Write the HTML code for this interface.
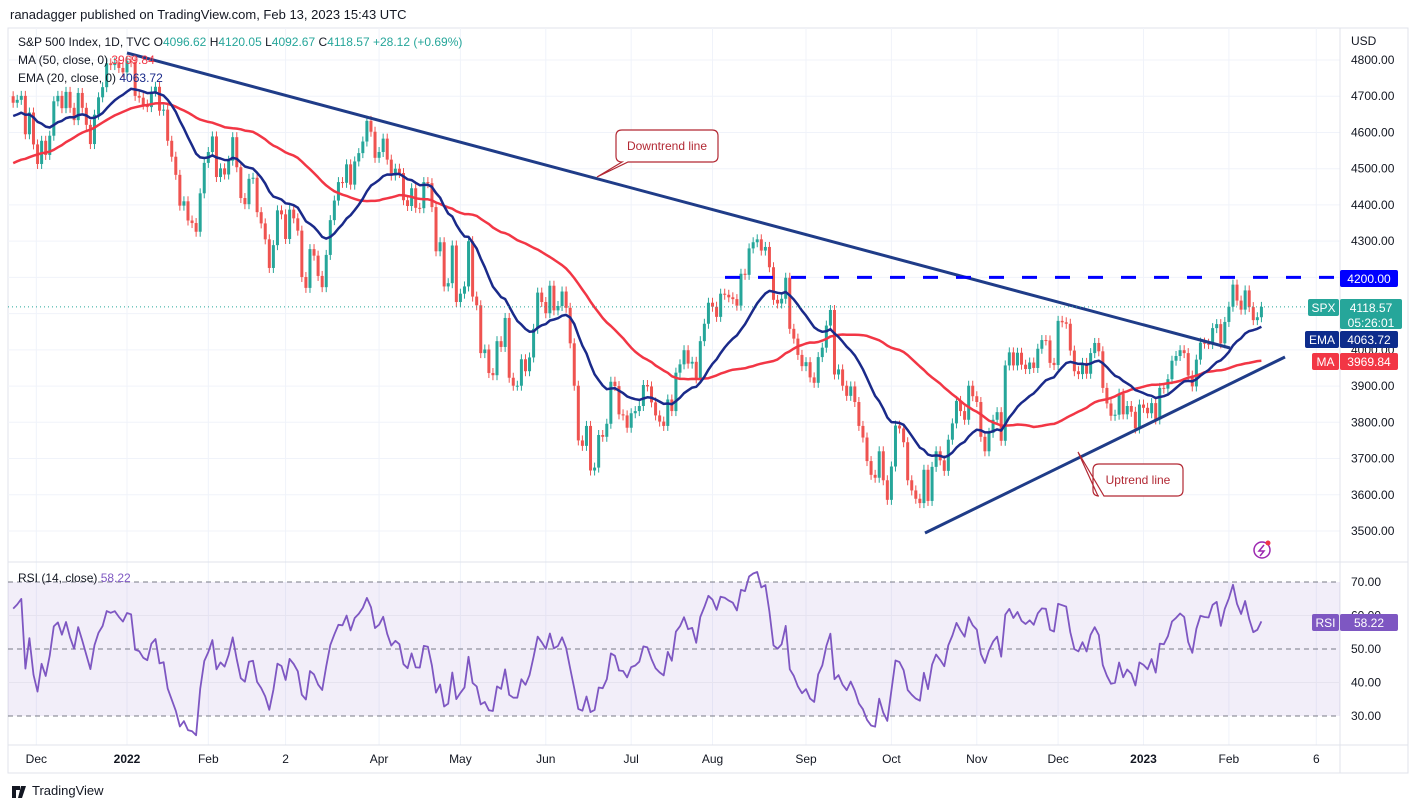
<!DOCTYPE html>
<html><head><meta charset="utf-8">
<style>
body{margin:0;background:#fff;font-family:"Liberation Sans",sans-serif;}
#wrap{position:relative;width:1418px;height:808px;overflow:hidden;}
svg text{font-family:"Liberation Sans",sans-serif;}
</style></head>
<body>
<div id="wrap">
<svg id="chart" width="1418" height="808" xmlns="http://www.w3.org/2000/svg"></svg>
</div>
<script>
// warm-up closes (Sep 7 - Nov 19 2021), not drawn
const warmCloses=[4520,4514,4493,4459,4469,4443,4480,4474,4433,4358,4354,4395,4449,4455,4443,4353,4359,4307,
4357,4300,4345,4363,4399,4391,4361,4350,4364,4438,4471,4486,4519,4536,4549,4544,4566,4575,4552,4597,4605,
4614,4631,4660,4680,4697,4702,4686,4647,4649,4683,4682,4700,4688,4704,4698];
// daily closes Nov 22 2021 - Feb 13 2023
const closes=[4682,4690,4701,4595,4655,4567,
4513,4577,4538,4591,4686,4701,4667,4712,4668,4634,4709,4668,4621,4568,4649,4697,4725,4791,4786,4793,4778,4766,
4797,4794,4701,4696,4677,4670,4713,4726,4660,4663,4577,4533,4483,4398,4410,4357,4350,4326,4432,4516,
4546,4589,4477,4501,4484,4522,4587,4504,4419,4402,4472,4475,4380,4349,4305,4226,4289,4385,4374,
4306,4387,4363,4329,4201,4171,4278,4260,4204,4173,4262,4358,4412,4463,4461,4512,4456,4520,4543,4575,4632,4602,4530,
4546,4583,4525,4481,4500,4488,4413,4397,4446,4392,4391,4463,4460,4394,4272,4297,4175,4184,4288,4132,
4155,4175,4300,4147,4123,3991,4001,3936,3930,4024,4008,4088,3923,3901,3901,3974,3941,3979,4058,4158,4132,
4101,4177,4109,4121,4161,4116,4018,3901,3750,3735,3790,3667,3675,3765,3760,3796,3912,3900,3822,3819,3785,
3825,3831,3845,3903,3899,3855,3819,3802,3790,3863,3831,3937,3960,3999,3962,3967,3921,4024,4072,4130,
4119,4091,4155,4152,4145,4140,4122,4210,4207,4280,4297,4305,4274,4284,4228,4138,4128,4141,4199,4058,4031,3986,3955,
3966,3924,3909,3980,4006,4067,4110,3932,3946,3901,3873,3899,3856,3790,3758,3693,3655,3647,3720,3640,3586,
3678,3791,3783,3745,3640,3612,3589,3577,3669,3583,3677,3720,3695,3666,3752,3797,3859,3831,3807,3901,3872,
3856,3760,3720,3771,3807,3828,3749,3957,3993,3957,3992,3959,3947,3965,3950,4003,4027,4026,3964,3958,4080,
4076,4072,3998,3941,3933,3964,3934,3991,4019,3996,3895,3852,3818,3821,3879,3822,3845,3829,3783,3849,3840,
3825,3853,3808,3895,3893,3919,3970,3983,3999,3991,3929,3899,3973,4020,4017,4016,4060,4071,4018,4077,
4119,4180,4136,4111,4164,4118,4082,4090,4118.57];
const priceTicks=[4800,4700,4600,4500,4400,4300,4200,4100,4000,3900,3800,3700,3600,3500];
const rsiTicks=[70,60,50,40,30];
const monthLabels=["Dec","2022","Feb","2","Apr","May","Jun","Jul","Aug","Sep","Oct","Nov","Dec","2023","Feb","6"];
const monthIdx=[5.7,28,48,67,90,110,131,152,172,195,216,237,257,278,299,320.5];

const S=document.getElementById('chart');
const NS='http://www.w3.org/2000/svg';
function mk(tag,attrs,parent){const e=document.createElementNS(NS,tag);for(const k in attrs)e.setAttribute(k,attrs[k]);(parent||S).appendChild(e);return e;}
const xi=i=>127+(i-28)*4.066;
const yp=p=>531-(p-3500)*0.36231;
const yr=r=>716-(r-30)*3.35;
const L=8,R=1340,RB=1408;

// indicators
const all=warmCloses.concat(closes);const W=warmCloses.length;
const ema=[];let e=all[0];const k=2/21;
all.forEach((c,i)=>{e=i===0?c:c*k+e*(1-k);ema.push(e);});
const ma=all.map((c,i)=>{const s=all.slice(Math.max(0,i-49),i+1);return s.reduce((a,b)=>a+b,0)/s.length;});
const rsi=[];let ag=0,al=0;
all.forEach((c,i)=>{if(i===0){rsi.push(50);return;}const d=c-all[i-1];const g=Math.max(d,0),l=Math.max(-d,0);
if(i<=14){ag+=g/14;al+=l/14;}else{ag=(ag*13+g)/14;al=(al*13+l)/14;}rsi.push(al===0?100:100-100/(1+ag/al));});

// frame
const bg=mk('rect',{x:L,y:28,width:RB-L,height:745,fill:'#fff',stroke:'#e0e3eb'});

// grid
monthIdx.forEach(m=>{mk('line',{x1:xi(m),x2:xi(m),y1:28,y2:745,stroke:'#f0f3fa'});});
priceTicks.forEach(p=>{mk('line',{x1:L,x2:R,y1:yp(p),y2:yp(p),stroke:'#f0f3fa'});});
// panes borders
mk('line',{x1:L,x2:RB,y1:562,y2:562,stroke:'#e0e3eb'});
mk('line',{x1:L,x2:RB,y1:745,y2:745,stroke:'#e0e3eb'});
mk('line',{x1:R,x2:R,y1:28,y2:773,stroke:'#e0e3eb'});

// price axis labels
priceTicks.forEach(p=>{const t=mk('text',{x:1351,y:yp(p)+4,'font-size':12,fill:'#131722'});t.textContent=p.toFixed(2);
});
const usd=mk('text',{x:1351,y:45,'font-size':12,fill:'#131722'});usd.textContent='USD';


// time axis
monthLabels.forEach((m,i)=>{const t=mk('text',{x:xi(monthIdx[i]),y:763,'font-size':12,fill:'#131722','text-anchor':'middle','font-weight':/^\d{4}$/.test(m)?'bold':'normal'});t.textContent=m;
});

// candles
const cg=mk('g',{});
closes.forEach((c,i)=>{const o=i===0?4700:closes[i-1];const up=c>=o;const col=up?'#26a69a':'#ef5350';const x=xi(i);
const y1=yp(Math.max(o,c)),y2=yp(Math.min(o,c));
const wk=mk('line',{x1:x,x2:x,y1:y1-5,y2:y2+5,stroke:col,'stroke-width':1},cg);

const b=mk('rect',{x:x-1.5,y:y1,width:3,height:Math.max(1,y2-y1),fill:col},cg);
});

function line(arr,yf,col,w,name){let d='';for(let i=0;i<closes.length;i++){d+=(i?'L':'M')+xi(i).toFixed(1)+','+yf(arr[W+i]).toFixed(1);}
const p=mk('path',{d:d,fill:'none',stroke:col,'stroke-width':w,'stroke-linejoin':'round'});return p;}
line(ma,yp,'#f23645',2.5,'ma50-line');
line(ema,yp,'#1a2a8a',2.5,'ema20-line');

// trend lines
const dl=mk('line',{x1:127,y1:53,x2:1230,y2:348,stroke:'#1f3c88','stroke-width':3});
const ul=mk('line',{x1:925,y1:533,x2:1285,y2:357,stroke:'#1f3c88','stroke-width':3});
const rl=mk('line',{x1:725,y1:yp(4200),x2:1335,y2:yp(4200),stroke:'#0000ff','stroke-width':3,'stroke-dasharray':'15,18'});
mk('line',{x1:L,x2:R,y1:yp(4118.57),y2:yp(4118.57),stroke:'#26a69a','stroke-dasharray':'1,3'});

// callouts
function callout(x,y,w,h,px,py,bx1,bx2,text,name){
const g=mk('g',{});
mk('path',{d:`M${x+6},${y} H${x+w-6} Q${x+w},${y} ${x+w},${y+6} V${y+h-6} Q${x+w},${y+h} ${x+w-6},${y+h} H${bx2} L${px},${py} L${bx1},${y+h} H${x+6} Q${x},${y+h} ${x},${y+h-6} V${y+6} Q${x},${y} ${x+6},${y} Z`,fill:'#fff',stroke:'#b22833','stroke-width':1.2},g);
const t=mk('text',{x:x+w/2,y:y+h/2+4,'font-size':12,fill:'#b22833','text-anchor':'middle'},g);t.textContent=text;}
callout(616,130,102,32,597,177,622,628,'Downtrend line','downtrend-label');
callout(1093,464,90,32,1078,452,1098,1104,'Uptrend line','uptrend-label');

// price tags
function tag(x,y,w,h,fill,txt,name,sz){const g=mk('g',{});
mk('rect',{x:x,y:y,width:w,height:h,fill:fill,rx:2},g);
txt.forEach((tt,i)=>{const t=mk('text',{x:x+w/2,y:y+13+i*15,'font-size':sz||12,fill:'#fff','text-anchor':'middle'},g);t.textContent=tt;});}
tag(1340,270,58,17,'#0000ff',['4200.00'],'tag-4200');
tag(1308,299,31,17,'#26a69a',['SPX'],'tag-spx-name');
tag(1340,299,62,30,'#26a69a',['4118.57','05:26:01'],'tag-spx-price');
tag(1305,331,34,17,'#0d2c8c',['EMA'],'tag-ema-name');
tag(1340,331,58,17,'#0d2c8c',['4063.72'],'tag-ema-value');
tag(1312,353,27,17,'#f23645',['MA'],'tag-ma-name');
tag(1340,353,58,17,'#f23645',['3969.84'],'tag-ma-value');

// RSI pane
const rb=mk('rect',{x:L,y:yr(70),width:R-L,height:yr(30)-yr(70),fill:'#7e57c2','fill-opacity':0.1});
[70,50,30].forEach(v=>mk('line',{x1:L,x2:R,y1:yr(v),y2:yr(v),stroke:'#787b86','stroke-dasharray':'5,4'}));
[60,40].forEach(v=>mk('line',{x1:L,x2:R,y1:yr(v),y2:yr(v),stroke:'#e6e3ef'}));
rsiTicks.forEach(v=>{const t=mk('text',{x:1351,y:yr(v)+4,'font-size':12,fill:'#131722'});t.textContent=v.toFixed(2);});
line(rsi,yr,'#7e57c2',1.8,'rsi-line');
tag(1312,614,27,17,'#7e57c2',['RSI'],'tag-rsi-name');
tag(1340,614,58,17,'#7e57c2',['58.22'],'tag-rsi-value');

// header & legends
function txt(x,y,s,parts,name){const t=mk('text',{x:x,y:y,'font-size':s});
parts.forEach(p=>{const ts=mk('tspan',{fill:p[1]},t);ts.textContent=p[0];});}
txt(10,19,13,[['ranadagger published on TradingView.com, Feb 13, 2023 15:43 UTC','#131722']],'publish-header');
txt(18,46,12,[['S&P 500 Index, 1D, TVC  O','#131722'],['4096.62','#26a69a'],['  H','#131722'],['4120.05','#26a69a'],['  L','#131722'],['4092.67','#26a69a'],['  C','#131722'],['4118.57','#26a69a'],[' +28.12 (+0.69%)','#26a69a']],'ohlc-legend');
txt(18,64,12,[['MA (50, close, 0)  ','#131722'],['3969.84','#f23645']],'ma-legend');
txt(18,82,12,[['EMA (20, close, 0)  ','#131722'],['4063.72','#1a2a8a']],'ema-legend');
txt(18,582,12,[['RSI (14, close)  ','#131722'],['58.22','#7e57c2']],'rsi-legend');
txt(32,795,13,[['TradingView','#131722']],'tradingview-logo');
const lg=mk('path',{d:'M12,786 h8 v4 h-4 v8 h-4z M21,786 h5 l-4,12 h-4z',fill:'#131722'});
const ic=mk('g',{});
mk('circle',{cx:1262,cy:550,r:8,fill:'none',stroke:'#9c27b0','stroke-width':1.5},ic);
mk('path',{d:'M1264,545 L1259,551 H1264 L1260,556',fill:'none',stroke:'#9c27b0','stroke-width':1.5},ic);
mk('circle',{cx:1268,cy:543,r:2.5,fill:'#f23645'},ic);
</script>
</body></html>
